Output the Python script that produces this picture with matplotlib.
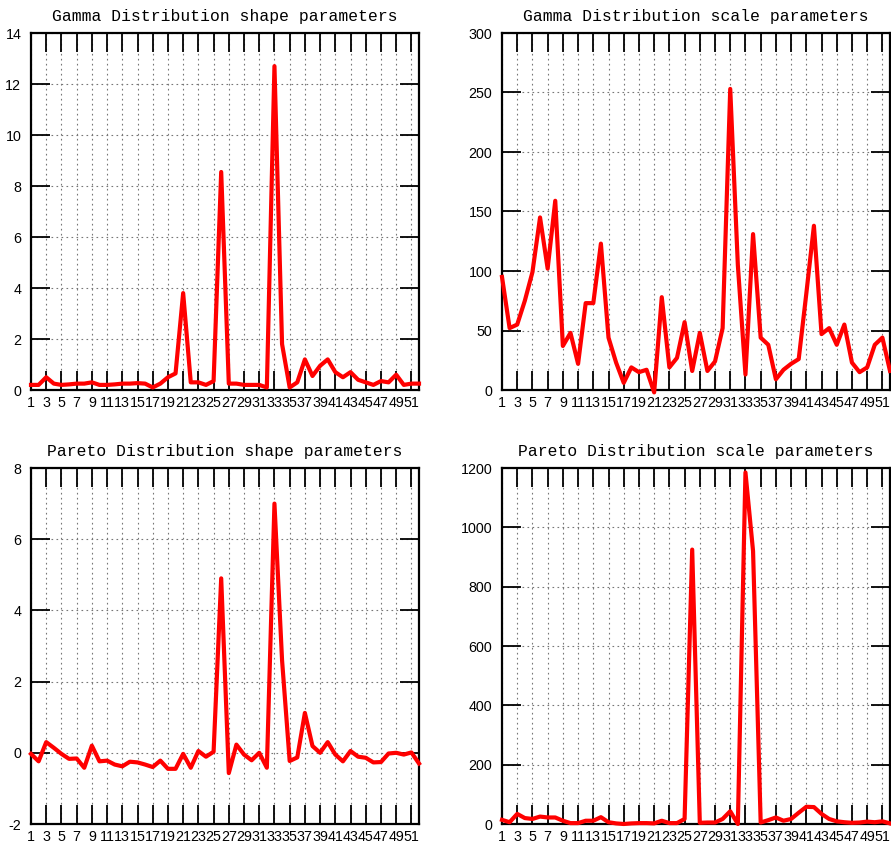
import numpy as np
import matplotlib.pyplot as plt

# index of each estimate (1..52)
idx = np.arange(1, 53)

gamma_shape = [0.2, 0.2, 0.5, 0.25, 0.2, 0.22, 0.25, 0.25, 0.3, 0.2,
               0.2, 0.22, 0.25, 0.25, 0.27, 0.25, 0.1, 0.25, 0.5, 0.65,
               3.8, 0.3, 0.3, 0.2, 0.35, 8.55, 0.25, 0.25, 0.2, 0.2,
               0.2, 0.1, 12.7, 1.8, 0.1, 0.3, 1.2, 0.55, 0.95, 1.2,
               0.7, 0.5, 0.7, 0.4, 0.3, 0.2, 0.35, 0.3, 0.6, 0.2,
               0.25, 0.25]

gamma_scale = [95, 52, 55, 75, 99, 145, 102, 159, 37, 48,
               22, 73, 73, 123, 44, 23, 6, 19, 15, 17,
               -2, 78, 19, 27, 57, 16, 48, 16, 24, 52,
               253, 105, 13, 131, 44, 38, 9, 17, 22, 26,
               81, 138, 47, 52, 38, 55, 23, 15, 19, 38,
               44, 16]

pareto_shape = [-0.03, -0.24, 0.3, 0.14, -0.03, -0.17, -0.16, -0.42, 0.2, -0.24,
                -0.22, -0.33, -0.38, -0.25, -0.27, -0.33, -0.4, -0.22, -0.45, -0.45,
                -0.03, -0.42, 0.05, -0.11, 0.03, 4.9, -0.57, 0.23, -0.05, -0.21,
                0.0, -0.42, 7.0, 2.6, -0.23, -0.13, 1.12, 0.19, 0.0, 0.3,
                -0.05, -0.24, 0.05, -0.11, -0.14, -0.27, -0.26, -0.02, 0.0, -0.05,
                0.01, -0.3]

pareto_scale = [14, 6, 34, 20, 17, 25, 22, 22, 11, 3,
                3, 11, 11, 23, 6, 2, 0, 2, 3, 3,
                2, 11, 3, 3, 17, 925, 4, 5, 5, 17,
                43, 0, 1185, 920, 5, 13, 22, 11, 17, 38,
                58, 57, 34, 17, 9, 6, 4, 5, 8, 6,
                9, 2]

xticks = list(range(1, 52, 2))

panels = [
    ("Gamma Distribution shape parameters", gamma_shape, (0, 14), range(0, 15, 2)),
    ("Gamma Distribution scale parameters", gamma_scale, (0, 300), range(0, 301, 50)),
    ("Pareto Distribution shape parameters", pareto_shape, (-2, 8), range(-2, 9, 2)),
    ("Pareto Distribution scale parameters", pareto_scale, (0, 1200), range(0, 1201, 200)),
]

# axes rectangles in figure fractions (left, bottom, width, height)
rects = [
    (31 / 891, 1 - 390 / 847, 388 / 891, 357 / 847),
    (502 / 891, 1 - 390 / 847, 388 / 891, 357 / 847),
    (31 / 891, 1 - 824 / 847, 388 / 891, 356 / 847),
    (502 / 891, 1 - 824 / 847, 388 / 891, 356 / 847),
]

fig = plt.figure(figsize=(8.91, 8.47), dpi=100)

for (title, vals, ylim, yt), rect in zip(panels, rects):
    ax = fig.add_axes(rect)
    ax.plot(idx, vals, color='#ff0000', linewidth=3.0, clip_on=False, zorder=3)
    ax.set_xlim(1, 52)
    ax.set_ylim(*ylim)
    ax.set_xticks(xticks)
    ax.set_xticklabels([str(t) for t in xticks], family='Liberation Sans', fontsize=10.3)
    ax.set_yticks(list(yt))
    ax.set_yticklabels([str(t) for t in yt], family='Liberation Sans', fontsize=10.3)
    ax.tick_params(axis='both', direction='in', length=14, width=1.3, color='black',
                   top=True, right=True)
    ax.tick_params(axis='x', pad=4)
    ax.tick_params(axis='y', pad=7)
    ax.grid(True, color='#777777', linestyle=(0, (1.5, 3)), linewidth=0.8)
    for s in ax.spines.values():
        s.set_linewidth(1.6)
        s.set_color('black')
    ax.set_title(title, family='Liberation Mono', fontsize=11.8, pad=9)

fig.savefig('out.png', dpi=100)
